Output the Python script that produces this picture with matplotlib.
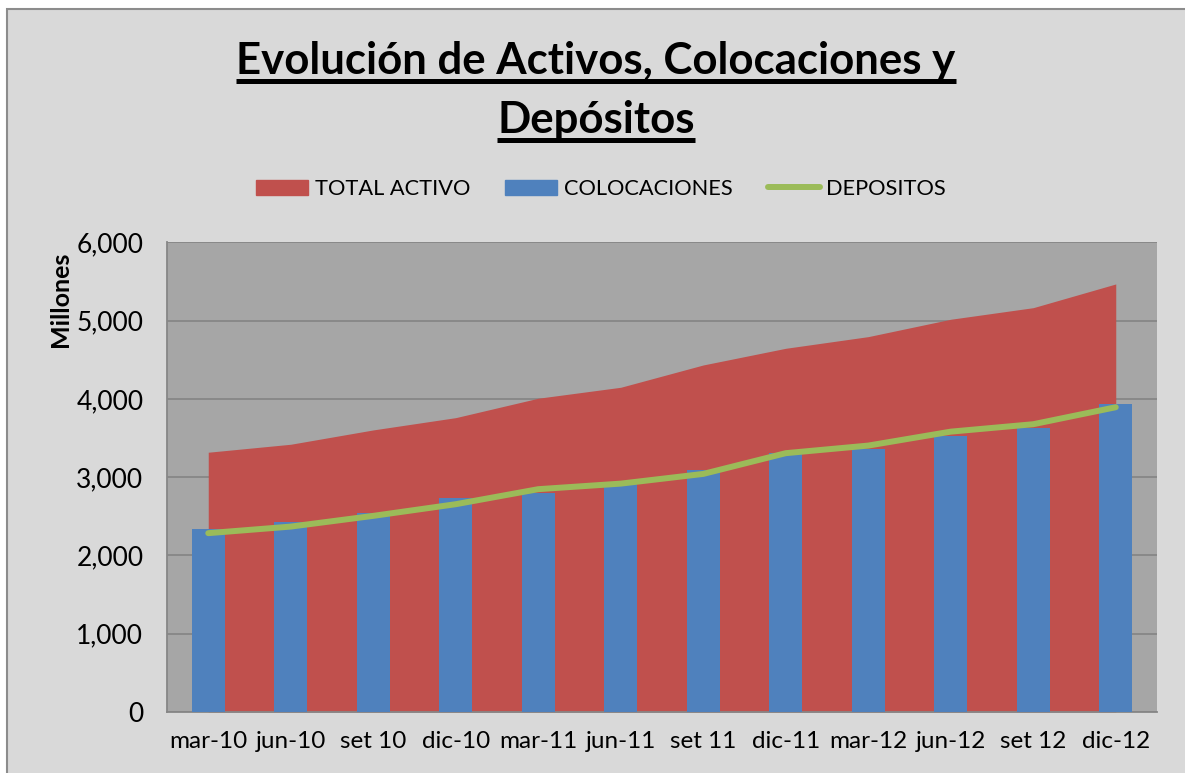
import matplotlib
matplotlib.use("Agg")
import matplotlib.pyplot as plt
from matplotlib.lines import Line2D
from matplotlib.patches import Patch, Rectangle
from matplotlib.ticker import FuncFormatter, MultipleLocator

plt.rcParams["font.family"] = ["Lato", "DejaVu Sans"]

periodos = ["mar-10", "jun-10", "set 10", "dic-10", "mar-11", "jun-11",
            "set 11", "dic-11", "mar-12", "jun-12", "set 12", "dic-12"]
total_activo = [3319, 3421, 3604, 3761, 4009, 4149, 4434, 4647, 4796, 5018, 5166, 5469]
colocaciones = [2336, 2433, 2540, 2732, 2796, 2940, 3093, 3307, 3361, 3531, 3633, 3940]
depositos = [2285, 2369, 2506, 2655, 2847, 2918, 3042, 3307, 3404, 3582, 3677, 3894]

RED = "#C0504D"
BLUE = "#4F81BD"
GREEN = "#9BBB59"

W, H = 1185, 773
fig = plt.figure(figsize=(W / 100, H / 100), dpi=100)
fig.patch.set_facecolor("white")

# chart frame (cropped on the right and bottom like the screenshot)
fig.add_artist(Rectangle((7 / W, -0.05), 1.1, 1.05 - 9 / H, transform=fig.transFigure,
                         facecolor="#D9D9D9", edgecolor="#8C8C8C", linewidth=1.5, zorder=0))

ax = fig.add_axes([167 / W, (H - 712) / H, (1157 - 167) / W, (712 - 242.4) / H])
ax.set_facecolor("#A6A6A6")

x = list(range(len(periodos)))
ax.fill_between(x, total_activo, color=RED, linewidth=0, zorder=2)
ax.bar(x, colocaciones, width=0.4, color=BLUE, zorder=3)
ax.plot(x, depositos, color=GREEN, linewidth=4.3, solid_capstyle="round", zorder=4)

ax.set_xlim(-0.5, len(periodos) - 0.5)
ax.set_ylim(0, 6000)
ax.yaxis.set_major_locator(MultipleLocator(1000))
ax.yaxis.set_major_formatter(FuncFormatter(lambda v, p: f"{v:,.0f}"))
ax.set_xticks(x)
ax.set_xticklabels(periodos)
ax.tick_params(axis="both", length=0, colors="black")
ax.tick_params(axis="y", pad=17, labelsize=19)
ax.tick_params(axis="x", pad=14, labelsize=17.5)

ax.set_axisbelow(True)
ax.grid(axis="y", color="#868686", linewidth=1.3)
for s in ("top", "right"):
    ax.spines[s].set_visible(False)
for s in ("left", "bottom"):
    ax.spines[s].set_color("#868686")
    ax.spines[s].set_linewidth(1.3)

fig.text(60 / W, 1 - 299 / H, "Millones", rotation=90, ha="center", va="center",
         fontsize=18, fontweight="bold")

# title, two centred lines with underline
t1 = fig.text(596 / W, 1 - 74 / H, "Evolución de Activos, Colocaciones y",
              ha="center", va="baseline", fontsize=31.5, fontweight="bold")
t2 = fig.text(596 / W, 1 - 133 / H, "Depósitos",
              ha="center", va="baseline", fontsize=31.5, fontweight="bold")

handles = [Patch(color=RED), Patch(color=BLUE),
           Line2D([0], [0], color=GREEN, linewidth=4.3, solid_capstyle="round")]
fig.legend(handles, ["TOTAL ACTIVO", "COLOCACIONES", "DEPOSITOS"], ncol=3,
           loc="center", bbox_to_anchor=(601 / W, 1 - 189 / H), frameon=False,
           fontsize=15.7, handlelength=2.4, handleheight=0.7, handletextpad=0.3,
           columnspacing=1.6)

fig.canvas.draw()
renderer = fig.canvas.get_renderer()
for t, base in ((t1, 74), (t2, 133)):
    bb = t.get_window_extent(renderer)
    yy = 1 - (base + 6.5) / H
    fig.add_artist(Line2D([bb.x0 / W, bb.x1 / W], [yy, yy], transform=fig.transFigure,
                          color="black", linewidth=3.6, solid_capstyle="butt"))

fig.savefig("out.png", dpi=100)
plt.close(fig)
